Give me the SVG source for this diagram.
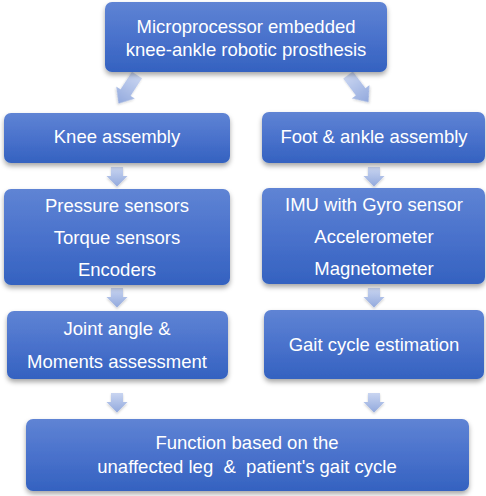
<svg xmlns="http://www.w3.org/2000/svg" width="486" height="496" viewBox="0 0 486 496">
<defs>
<linearGradient id="bg" x1="0" y1="0" x2="0" y2="1">
<stop offset="0" stop-color="#5f84d4"/>
<stop offset="0.5" stop-color="#4a72cc"/>
<stop offset="1" stop-color="#3462c0"/>
</linearGradient>
<linearGradient id="ag" x1="0" y1="0" x2="0" y2="1">
<stop offset="0" stop-color="#c9d5f1"/>
<stop offset="1" stop-color="#92a9dd"/>
</linearGradient>
<filter id="sh" x="-10%" y="-10%" width="120%" height="130%">
<feDropShadow dx="0" dy="3" stdDeviation="2.5" flood-color="#000" flood-opacity="0.35"/>
</filter>
<filter id="ash" x="-30%" y="-30%" width="160%" height="160%">
<feDropShadow dx="0" dy="1.5" stdDeviation="1.2" flood-color="#000" flood-opacity="0.2"/>
</filter>
<path id="arr" d="M-6,0 H6 V9 H10.5 L0,19.5 L-10.5,9 H-6 Z"/>
<path id="darr" d="M-6,0 H6 V21 H11 L0,34 L-11,21 H-6 Z"/>
</defs>
<style>
.box{fill:url(#bg);filter:url(#sh)}
.t{font-family:"Liberation Sans",Arial,sans-serif;font-size:18.5px;fill:#fff;text-anchor:middle}
.a{fill:url(#ag);filter:url(#ash)}
</style>
<g id="connectors">
<use href="#darr" class="a" transform="translate(137,75) rotate(33)"/>
<use href="#darr" class="a" transform="translate(348,75) rotate(-37)"/>
<use href="#arr" class="a" transform="translate(117,167)"/>
<use href="#arr" class="a" transform="translate(374,167)"/>
<use href="#arr" class="a" transform="translate(117,288)"/>
<use href="#arr" class="a" transform="translate(374,288)"/>
<use href="#arr" class="a" transform="translate(117,393)"/>
<use href="#arr" class="a" transform="translate(374,393)"/>
</g>
<g id="top">
<rect class="box" x="105" y="2" width="282" height="70" rx="7"/>
<text class="t" x="246" y="33">Microprocessor embedded</text>
<text class="t" x="246" y="56">knee-ankle robotic prosthesis</text>
</g>
<g id="knee">
<rect class="box" x="4" y="113" width="226" height="50" rx="7"/>
<text class="t" x="117" y="143">Knee assembly</text>
</g>
<g id="foot">
<rect class="box" x="262" y="112" width="223" height="51" rx="7"/>
<text class="t" x="374" y="143">Foot &amp; ankle assembly</text>
</g>
<g id="sensorsKnee">
<rect class="box" x="4" y="189" width="226" height="96" rx="7"/>
<text class="t" x="117" y="212">Pressure sensors</text>
<text class="t" x="117" y="244">Torque sensors</text>
<text class="t" x="117" y="276">Encoders</text>
</g>
<g id="sensorsFoot">
<rect class="box" x="262" y="188" width="223" height="96" rx="7"/>
<text class="t" x="374" y="211">IMU with Gyro sensor</text>
<text class="t" x="374" y="243">Accelerometer</text>
<text class="t" x="374" y="275">Magnetometer</text>
</g>
<g id="joint">
<rect class="box" x="7" y="311" width="221" height="68" rx="7"/>
<text class="t" x="117" y="335">Joint angle &amp;</text>
<text class="t" x="117" y="368">Moments assessment</text>
</g>
<g id="gait">
<rect class="box" x="264" y="310" width="220" height="69" rx="7"/>
<text class="t" x="374" y="351">Gait cycle estimation</text>
</g>
<g id="function">
<rect class="box" x="26" y="419" width="443" height="72" rx="7"/>
<text class="t" x="247" y="449">Function based on the</text>
<text class="t" x="247" y="473" xml:space="preserve">unaffected leg  &amp;  patient's gait cycle</text>
</g>
</svg>
